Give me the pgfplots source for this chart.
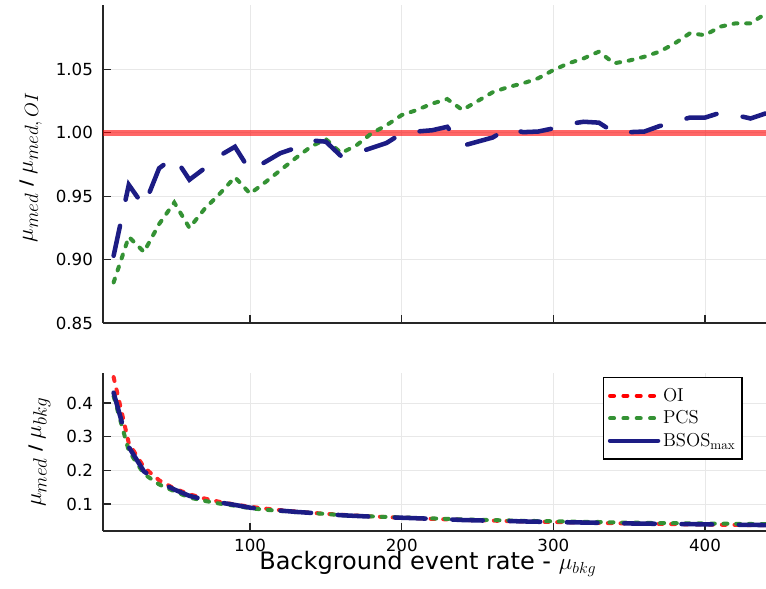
\documentclass[border=0pt]{standalone}
\usepackage{fontspec}
\setsansfont{DejaVu Sans}
\newfontface\slashfont{DejaVu Sans Bold}
\usepackage{pgfplots}
\pgfplotsset{compat=1.18}

\definecolor{oired}{RGB}{255,0,0}
\definecolor{pcsgreen}{RGB}{52,146,52}
\definecolor{bsosblue}{RGB}{28,28,132}

\pgfplotstableread{
x    pcs     bsos
10   0.882   0.903
20   0.918   0.959
30   0.906   0.942
40   0.928   0.972
50   0.945   0.981
60   0.925   0.963
70   0.940   0.972
80   0.952   0.982
90   0.965   0.989
100  0.952   0.970
110  0.961   0.977
120  0.9705  0.984
130  0.980   0.988
140  0.989   0.994
150  0.995   0.993
160  0.984   0.9816
170  0.990   0.984
180  0.9995  0.988
190  1.006   0.992
200  1.014   0.9995
210  1.018   1.001
220  1.023   1.002
230  1.0266  1.0047
240  1.018   0.9897
250  1.025   0.993
260  1.032   0.9963
270  1.036   1.0035
280  1.039   1.0005
290  1.043   1.001
300  1.0495  1.0035
310  1.0548  1.0069
320  1.0587  1.0087
330  1.064   1.008
340  1.0548  1.0003
350  1.057   1.0005
360  1.060   1.001
370  1.064   1.0053
380  1.0705  1.0087
390  1.0785  1.012
400  1.077   1.012
410  1.0837  1.0158
420  1.0863  1.014
430  1.0863  1.0113
440  1.094   1.0153
}\ratiotable

\pgfplotstableread{
x    oi      pcs     bsos
10   0.4769  0.4206  0.4306
20   0.2809  0.2579  0.2694
30   0.2090  0.1894  0.1969
40   0.1705  0.1582  0.1657
50   0.1460  0.1380  0.1432
60   0.1290  0.1193  0.1242
70   0.1164  0.1094  0.1131
80   0.1064  0.1013  0.1045
90   0.0985  0.0951  0.0974
100  0.0920  0.0876  0.0892
110  0.0865  0.0831  0.0846
120  0.0819  0.0795  0.0806
130  0.0777  0.0761  0.0768
140  0.0742  0.0734  0.0738
150  0.0710  0.0706  0.0705
160  0.0682  0.0671  0.0669
170  0.0657  0.0650  0.0647
180  0.0634  0.0634  0.0626
190  0.0613  0.0617  0.0608
200  0.0594  0.0602  0.0594
210  0.0577  0.0587  0.0578
220  0.0561  0.0574  0.0562
230  0.0545  0.0560  0.0548
240  0.0531  0.0541  0.0526
250  0.0519  0.0532  0.0515
260  0.0507  0.0523  0.0505
270  0.0495  0.0513  0.0497
280  0.0484  0.0503  0.0484
290  0.0475  0.0495  0.0475
300  0.0465  0.0488  0.0467
310  0.0456  0.0481  0.0459
320  0.0447  0.0473  0.0451
330  0.0439  0.0467  0.0443
340  0.0431  0.0455  0.0431
350  0.0424  0.0448  0.0424
360  0.0418  0.0443  0.0418
370  0.0411  0.0437  0.0413
380  0.0404  0.0432  0.0408
390  0.0398  0.0429  0.0403
400  0.0392  0.0422  0.0397
410  0.0386  0.0418  0.0392
420  0.0381  0.0414  0.0386
430  0.0376  0.0408  0.0380
440  0.0371  0.0406  0.0377
}\abstable

\pgfplotsset{
  panel/.style={
    scale only axis,
    width=497.25pt,
    xmin=3, xmax=440.2,
    axis x line*=bottom,
    axis y line*=left,
    axis line style={black!85, line width=1pt},
    tick align=inside,
    major tick length=6pt,
    tick style={black!85, line width=1pt},
    grid=major,
    major grid style={black!9, line width=0.6pt},
    xtick={100,200,300,400},
    tick label style={font=\fontsize{12.5}{14}\sffamily},
    /pgf/number format/assume math mode=true,
    yticklabel style={xshift=-4pt},
    xticklabel style={yshift=-2.5pt},
    clip=true,
  },
  dotline/.style={line width=3pt, line cap=round, dash pattern=on 3pt off 6.5pt},
  dashline/.style={line width=3.4pt, line cap=round, dash pattern=on 23pt off 20pt},
}

\begin{document}
\begin{tikzpicture}
\useasboundingbox (0,0) rectangle (574.5pt,441pt);

% upper panel: ratio to the OI median
\begin{axis}[panel,
  at={(77.25pt,198.75pt)}, anchor=south west,
  height=238.5pt,
  ymin=0.85, ymax=1.1008,
  ytick={0.85,0.90,0.95,1.00,1.05},
  yticklabel style={/pgf/number format/.cd, fixed, fixed zerofill, precision=2},
  xticklabels={},
  ylabel={$\mu_{med}$\hspace{5pt}{\slashfont\fontsize{13}{15}\selectfont /}\hspace{4pt}$\mu_{med,\,OI}$},
  ylabel style={font=\fontsize{19}{22}\selectfont, at={(axis description cs:-0.1086,0.49)}, anchor=center, rotate=0},
]
\addplot[oired, opacity=0.6, line width=4.5pt] coordinates {(3,1) (440.2,1)};
\addplot[pcsgreen, dotline] table[x=x, y=pcs] {\ratiotable};
\addplot[bsosblue, dashline] table[x=x, y=bsos] {\ratiotable};
\end{axis}

% lower panel: median relative to the background rate
\begin{axis}[panel,
  at={(77.25pt,42.75pt)}, anchor=south west,
  height=118.5pt,
  ymin=0.02, ymax=0.489,
  ytick={0.1,0.2,0.3,0.4},
  yticklabel style={/pgf/number format/.cd, fixed, fixed zerofill, precision=1},
  xticklabel style={/pgf/number format/.cd, fixed, precision=0},
  ylabel={$\mu_{med}$\hspace{5pt}{\slashfont\fontsize{13}{15}\selectfont /}\hspace{4pt}$\mu_{bkg}$},
  ylabel style={font=\fontsize{19}{22}\selectfont, at={(axis description cs:-0.0958,0.5)}, anchor=center, rotate=0},
  xlabel={Background event rate - $\mu_{bkg}$},
  xlabel style={font=\fontsize{18}{21}\sffamily, at={(axis description cs:0.49,0)}, anchor=base, yshift=-29pt},
  legend style={at={(0.965,0.975)}, anchor=north east, draw=black, line width=1pt, fill=white,
    font=\fontsize{14}{16}\rmfamily, inner xsep=3pt, inner ysep=6pt, row sep=1.5pt,
    cells={anchor=west}},
  legend image code/.code={\draw[#1] (0pt,0pt) -- (36pt,0pt);},
]
\addlegendimage{oired, line width=3pt, line cap=round, dash pattern=on 3pt off 7pt}
\addlegendentry{OI}
\addlegendimage{pcsgreen, line width=3pt, line cap=round, dash pattern=on 3pt off 7pt}
\addlegendentry{PCS}
\addlegendimage{bsosblue, line width=3.4pt, line cap=round}
\addlegendentry{BSOS$_{\mathrm{max}}$}
\addplot[oired, opacity=0.85, dotline, forget plot] table[x=x, y=oi] {\abstable};
\addplot[pcsgreen, dotline, forget plot] table[x=x, y=pcs] {\abstable};
\addplot[bsosblue, dashline, forget plot] table[x=x, y=bsos] {\abstable};
\end{axis}
\end{tikzpicture}
\end{document}
